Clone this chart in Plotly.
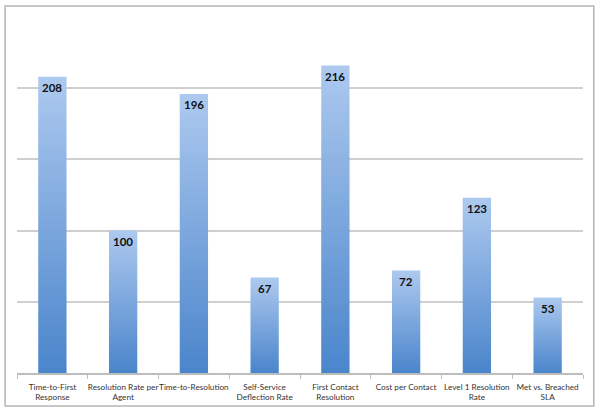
import plotly.graph_objects as go

categories = ["Time-to-First<br>Response", "Resolution Rate per<br>Agent", "Time-to-Resolution",
              "Self-Service<br>Deflection Rate", "First Contact<br>Resolution", "Cost per Contact",
              "Level 1 Resolution<br>Rate", "Met vs. Breached<br>SLA"]
values = [208, 100, 196, 67, 216, 72, 123, 53]
y_ticks = [0, 50, 100, 150, 200, 250]

HALF = 0.2
TOP_C = "#adc9ef"
BOT_C = "#4a85cb"

fig = go.Figure()
for i, v in enumerate(values):
    fig.add_trace(go.Scatter(
        x=[i - HALF, i - HALF, i + HALF, i + HALF, i - HALF],
        y=[0, v, v, 0, 0],
        mode="lines", line=dict(width=0), fill="toself",
        fillgradient=dict(type="vertical", colorscale=[[0, BOT_C], [1, TOP_C]]),
        hoverinfo="skip", showlegend=False))

for i, v in enumerate(values):
    fig.add_annotation(x=i, y=v, text=str(v), showarrow=False, yshift=-11,
                       yanchor="middle",
                       font=dict(family="Lato, Open Sans, sans-serif", size=11.5,
                                 color="#111111", weight="bold"))

fig.update_layout(
    width=600, height=413,
    margin=dict(l=17, r=17, t=17, b=40),
    paper_bgcolor="white", plot_bgcolor="white",
    xaxis=dict(range=[-0.5, len(values) - 0.5], tickmode="array",
               tickvals=list(range(len(values))), ticktext=categories,
               tickangle=0, automargin=False, ticklabelstandoff=5,
               ticks="", showgrid=False, zeroline=False,
               showline=True, linecolor="#bdbdbd", linewidth=1.5,
               tickfont=dict(family="Lato, Open Sans, sans-serif", size=8.2, color="#333333"),
               minor=dict(ticks="outside", tickmode="linear", tick0=-0.5, dtick=1,
                          ticklen=4, tickcolor="#bdbdbd", tickwidth=1, showgrid=False)),
    yaxis=dict(range=[0, 250], tickmode="array", tickvals=y_ticks, showticklabels=False,
               automargin=False,
               showgrid=True, gridcolor="#cfcfcf", gridwidth=1.5, zeroline=False, showline=False),
    shapes=[dict(type="rect", xref="paper", yref="paper",
                 x0=-0.021, x1=1.019, y0=-0.093, y1=1.031,
                 line=dict(color="#b5b5b5", width=1.5), fillcolor="rgba(0,0,0,0)", layer="below")],
)

fig.write_html("out.html", config={"displayModeBar": False},
               post_script="document.body.style.margin='0';")
